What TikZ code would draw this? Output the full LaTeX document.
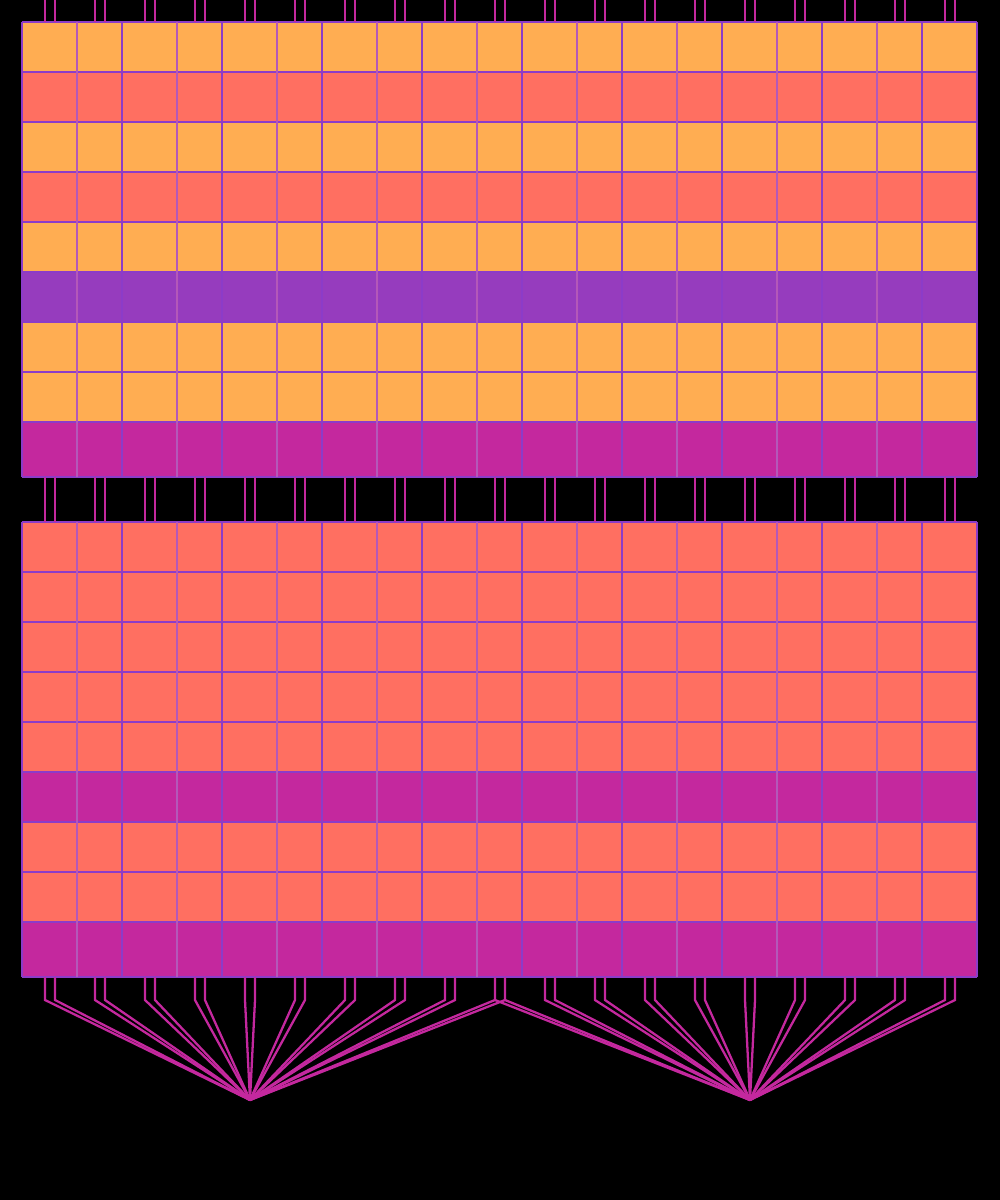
\documentclass[tikz,border=0pt]{standalone}
\usepackage{xcolor}
\usepackage{tikz}
\usetikzlibrary{positioning}

\definecolor{orangerow}{RGB}{255,173,82}
\definecolor{salmonrow}{RGB}{255,111,97}
\definecolor{purplerow}{RGB}{150,60,190}
\definecolor{magentarow}{RGB}{196,40,158}
\definecolor{gridA}{RGB}{140,60,200}
\definecolor{gridB}{RGB}{180,88,185}

\begin{document}
\begin{tikzpicture}[
      x=0.01cm, y=-0.01cm,
      wire_style/.style={magentarow, line width=0.65pt, line join=miter},
      hgrid_style/.style={gridA, line width=0.3pt},
      vgrid_style/.style={gridA, line width=0.3pt},
      vgrid_soft/.style={gridB, line width=0.4pt}
  ]

  % 1. Sfondo nero
  \fill[black] (0, 0) rectangle (1000, 1200);
  \useasboundingbox (0, 0) rectangle (1000, 1200);

  % 2. Righe del blocco superiore
  \foreach \ya/\yb/\c in {22/72/orangerow, 72/122/salmonrow, 122/172/orangerow,
      172/222/salmonrow, 222/272/orangerow, 272/322/purplerow,
      322/372/orangerow, 372/422/orangerow, 422/477/magentarow}
    \fill[\c] (22, \ya) rectangle (977, \yb);

  % 3. Righe del blocco inferiore
  \foreach \ya/\yb/\c in {522/572/salmonrow, 572/622/salmonrow, 622/672/salmonrow,
      672/722/salmonrow, 722/772/salmonrow, 772/822/magentarow,
      822/872/salmonrow, 872/922/salmonrow, 922/977/magentarow}
    \fill[\c] (22, \ya) rectangle (977, \yb);

  % 4. Griglia
  \foreach \top in {22, 522} {
    \foreach \r in {0, ..., 8}
      \draw[hgrid_style] (22, \top + 50*\r) -- (977, \top + 50*\r);
    \draw[hgrid_style] (22, \top + 455) -- (977, \top + 455);
    \foreach \k in {0, ..., 9} {
      \draw[vgrid_style] (22 + 100*\k, \top) -- (22 + 100*\k, \top + 455);
    }
    \foreach \k in {0, ..., 8} {
      \draw[vgrid_soft] (77 + 100*\k, \top) -- (77 + 100*\k, \top + 455);
    }
    \draw[vgrid_style] (977, \top) -- (977, \top + 455);
  }

  % 5. Fili verticali in alto e tra i blocchi
  \foreach \k in {1, ..., 19} {
    \draw[wire_style] (50*\k - 5, 0) -- (50*\k - 5, 22);
    \draw[wire_style] (50*\k + 5, 0) -- (50*\k + 5, 22);
    \draw[wire_style] (50*\k - 5, 477) -- (50*\k - 5, 522);
    \draw[wire_style] (50*\k + 5, 477) -- (50*\k + 5, 522);
  }

  % 6. Ventagli in basso
  \coordinate (fan_left) at (250, 1100);
  \coordinate (fan_right) at (750, 1100);
  \foreach \k in {1, ..., 9} {
    \draw[wire_style] (50*\k - 5, 977) -- (50*\k - 5, 1000) -- (fan_left);
    \draw[wire_style] (50*\k + 5, 977) -- (50*\k + 5, 1000) -- (fan_left);
  }
  \foreach \k in {11, ..., 19} {
    \draw[wire_style] (50*\k - 5, 977) -- (50*\k - 5, 1000) -- (fan_right);
    \draw[wire_style] (50*\k + 5, 977) -- (50*\k + 5, 1000) -- (fan_right);
  }

  % 7. Coppia centrale verso entrambi i ventagli
  \foreach \dx in {-5, 5} {
    \draw[wire_style] (500 + \dx, 977) -- (500 + \dx, 1000) -- (fan_left);
    \draw[wire_style] (500 + \dx, 1000) -- (fan_right);
  }

  \end{tikzpicture}
\end{document}
